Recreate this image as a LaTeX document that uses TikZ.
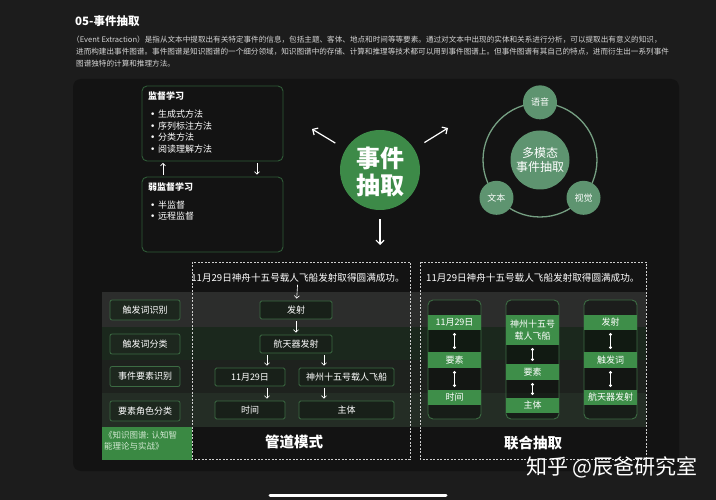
\documentclass[tikz,border=0pt]{standalone}
\usepackage{fontspec}
\setmainfont{Noto Sans CJK SC}
\newfontfamily\dvfont{DejaVu Sans}
\newcommand{\bul}{{\dvfont •}\hspace{2.5pt}}
\usetikzlibrary{arrows.meta,calc}
\definecolor{bg}{HTML}{1C1C1C}
\definecolor{panel}{HTML}{131313}
\definecolor{ptext}{HTML}{D6D6D6}
\definecolor{boxline}{HTML}{2F5A37}
\definecolor{core}{HTML}{3D8A48}
\definecolor{mgreen}{HTML}{5E9470}
\definecolor{ringc}{HTML}{76A083}
\definecolor{bandA}{HTML}{2C2D2C}
\definecolor{bandB}{HTML}{1B281D}
\definecolor{bandC}{HTML}{1E221E}
\definecolor{bandD}{HTML}{242D25}
\definecolor{lblline}{HTML}{3C6B43}
\definecolor{lblfill}{HTML}{1D271E}
\definecolor{pfill}{HTML}{182019}
\definecolor{bar}{HTML}{3E8E49}
\definecolor{book}{HTML}{3A8943}
\definecolor{booktext}{HTML}{D2E8D2}
\definecolor{dashc}{HTML}{CFCFCF}
\begin{document}
\begin{tikzpicture}[x=1pt,y=-1pt,
  every node/.style={inner sep=0pt},
  fnine/.style={font=\fontsize{9}{11.7}\selectfont},
  tlbox/.style={draw=boxline, line width=0.9pt, rounded corners=5pt, fill=panel, minimum width=141pt, minimum height=75pt},
  bigarr/.style={white, line width=1.2pt, -{Straight Barb[length=4pt,width=8pt]}},
  smallarr/.style={white, line width=0.6pt, -{Straight Barb[length=2.5pt,width=5pt]}, shorten <=2pt, shorten >=2pt},
  mcirc/.style={circle, fill=mgreen, text=white},
  lbl/.style={draw=lblline, fill=lblfill, line width=0.8pt, rounded corners=2pt, minimum width=70pt, minimum height=20pt, fnine, text=white},
  pbox/.style={draw=lblline, fill=pfill, line width=0.8pt, rounded corners=1.5pt, minimum height=18pt, fnine, text=white},
  dashbox/.style={draw=dashc, line width=0.8pt, dash pattern=on 2pt off 1.5pt},
  jcol/.style={draw=lblline, fill=black, fill opacity=0.35, draw opacity=1, line width=0.9pt, rounded corners=5pt, minimum width=53pt, minimum height=119pt},
  barn/.style={fill=bar, minimum width=53pt, fnine, text=white, align=center},
  jl/.style={white, line width=1pt, {Circle[length=2.6pt]}-{Circle[length=2.6pt]}, shorten <=3pt, shorten >=3pt},
  bigtitle/.style={font=\fontsize{14.5}{16}\selectfont\bfseries, text=white}
]
\useasboundingbox (0,0) rectangle (716,500);
\fill[bg] (0,0) rectangle (716,500);
\fill[panel, rounded corners=8pt] (73,79) rectangle (679,471);

% header
\node[anchor=west, font=\fontsize{11.5}{13}\selectfont\bfseries, text=white] (title) at (75,21) {05-事件抽取};
\node[anchor=west, font=\fontsize{7.6}{9}\selectfont, text=ptext] (p1) at (72,40) {（Event Extraction）是指从文本中提取出有关特定事件的信息，包括主题、客体、地点和时间等等要素。通过对文本中出现的实体和关系进行分析，可以提取出有意义的知识，};
\node[anchor=west, font=\fontsize{7.6}{9}\selectfont, text=ptext] (p2) at (76,52) {进而构建出事件图谱。事件图谱是知识图谱的一个细分领域，知识图谱中的存储、计算和推理等技术都可以用到事件图谱上。但事件图谱有其自己的特点，进而衍生出一系列事件};
\node[anchor=west, font=\fontsize{7.6}{9}\selectfont, text=ptext] (p3) at (76,64) {图谱独特的计算和推理方法。};

% top-left boxes
\node[tlbox] (sup) at (212.5,123.5) {};
\node[tlbox] (weak) at (212.5,214.5) {};
\node[anchor=west, font=\fontsize{9}{11}\selectfont\bfseries, text=white] (supt) at (148,96.5) {监督学习};
\node[anchor=north west, fnine, text=white, align=left] (supl) at (150,109.5) {\bul 生成式方法\\\bul 序列标注方法\\\bul 分类方法\\\bul 阅读理解方法};
\node[anchor=west, font=\fontsize{9}{11}\selectfont\bfseries, text=white] (weakt) at (148,187.5) {弱监督学习};
\node[anchor=north west, fnine, text=white, align=left] (weakl) at (150,200.5) {\bul 半监督\\\bul 远程监督};
\coordinate (upA) at (163,161);
\coordinate (dnA) at (257,161);
\draw[smallarr] (upA |- weak.north) -- (upA);
\draw[smallarr] (dnA) -- (dnA |- weak.north);

% core circle
\node[circle, fill=core, minimum size=80pt] (core) at (380,170) {};
\node[font=\fontsize{24}{27}\selectfont\bfseries, text=white, align=center] (coret) at (380,171.5) {事件\\抽取};
\coordinate (ul) at (312,129);
\coordinate (ur) at (448,128);
\coordinate (dn) at (380,245);
\draw[bigarr, shorten <=12pt] (core) -- (ul);
\draw[bigarr, shorten <=12pt] (core) -- (ur);
\draw[bigarr, shorten <=9pt] (core) -- (dn);

% right cluster
\node[draw=ringc, line width=1.3pt, circle, minimum size=114pt] (ring) at (540,160) {};
\node[mcirc, minimum size=59pt, font=\fontsize{12}{14}\selectfont, align=center] (multi) at (ring.center) {多模态\\事件抽取};
\node[mcirc, minimum size=34pt, fnine] (yuyin) at (ring.north) {语音};
\node[mcirc, minimum size=34pt, fnine] (wenben) at (ring.221) {文本};
\node[mcirc, minimum size=34pt, fnine] (shijue) at (ring.319) {视觉};

% bands
\fill[bandA] (102,292) rectangle (646,327);
\fill[bandB] (102,327) rectangle (646,360);
\fill[bandC] (102,360) rectangle (646,393);
\fill[bandD] (102,393) rectangle (646,427);
\fill[book] (102,427) rectangle (192,460);
\node[anchor=north west, font=\fontsize{8.5}{11}\selectfont, text=booktext, align=left] (bookt) at (104,431) {《知识图谱: 认知智\\能理论与实战》};

% labels
\node[lbl] (l1) at (145,310) {触发词识别};
\node[lbl] (l2) at (145,344) {触发词分类};
\node[lbl] (l3) at (145,376.5) {事件要素识别};
\node[lbl] (l4) at (145,411) {要素角色分类};

% pipeline
\draw[dashbox] (192,262) rectangle (410,459);
\node[font=\fontsize{9.6}{11}\selectfont, text=white] (s1) at (298,278) {11月29日神舟十五号载人飞船发射取得圆满成功。};
\node[pbox, minimum width=72pt] (fs) at (296,310) {发射};
\node[pbox, minimum width=72pt] (hang) at (296,344) {航天器发射};
\node[pbox, minimum width=70pt] (d1) at (250,377) {11月29日};
\node[pbox, minimum width=95pt] (d2) at (346.5,377) {神州十五号载人飞船};
\node[pbox, minimum width=70pt] (r1) at (250,410) {时间};
\node[pbox, minimum width=95pt] (r2) at (346.5,410) {主体};
\draw[smallarr] (s1) -- (fs);
\draw[smallarr] (fs) -- (hang);
\coordinate (xa) at (267,0);
\coordinate (xb) at (324,0);
\draw[smallarr] (xa |- hang.south) -- (xa |- d1.north);
\draw[smallarr] (xb |- hang.south) -- (xb |- d2.north);
\draw[smallarr] (xa |- d1.south) -- (xa |- r1.north);
\draw[smallarr] (xb |- d2.south) -- (xb |- r2.north);
\node[bigtitle] (pt) at (294,442) {管道模式};

% joint extraction
\draw[dashbox] (420,262) rectangle (646,459);
\node[anchor=west, font=\fontsize{9.6}{11}\selectfont, text=white] (s2) at (426,278) {11月29日神舟十五号载人飞船发射取得圆满成功。};
\node[jcol] (c1) at (454.5,359.5) {};
\node[jcol] (c2) at (532.5,359.5) {};
\node[jcol] (c3) at (610.5,359.5) {};
\node[barn, minimum height=15pt] (b11) at (454.5,322.5) {11月29日};
\node[barn, minimum height=16pt] (b12) at (454.5,360) {要素};
\node[barn, minimum height=15pt] (b13) at (454.5,397.5) {时间};
\node[barn, minimum height=30pt, font=\fontsize{9}{12}\selectfont] (b21) at (532.5,330) {神州十五号\\载人飞船};
\node[barn, minimum height=16pt] (b22) at (532.5,372) {要素};
\node[barn, minimum height=15pt] (b23) at (532.5,405.5) {主体};
\node[barn, minimum height=15pt] (b31) at (610.5,322.5) {发射};
\node[barn, minimum height=16pt] (b32) at (610.5,360) {触发词};
\node[barn, minimum height=15pt] (b33) at (610.5,397.5) {航天器发射};
\draw[jl] (b11.south) -- (b12.north);
\draw[jl] (b12.south) -- (b13.north);
\draw[jl] (b21.south) -- (b22.north);
\draw[jl] (b22.south) -- (b23.north);
\draw[jl] (b31.south) -- (b32.north);
\draw[jl] (b32.south) -- (b33.north);
\node[bigtitle] (jt) at (533,443) {联合抽取};

% watermark and bar
\node[anchor=east, font=\fontsize{21}{24}\selectfont, text=white] (wm) at (698,467) {知乎 @辰爸研究室};
\draw[white, line width=3pt, line cap=round] (270,495) -- (446,495);
\end{tikzpicture}
\end{document}
